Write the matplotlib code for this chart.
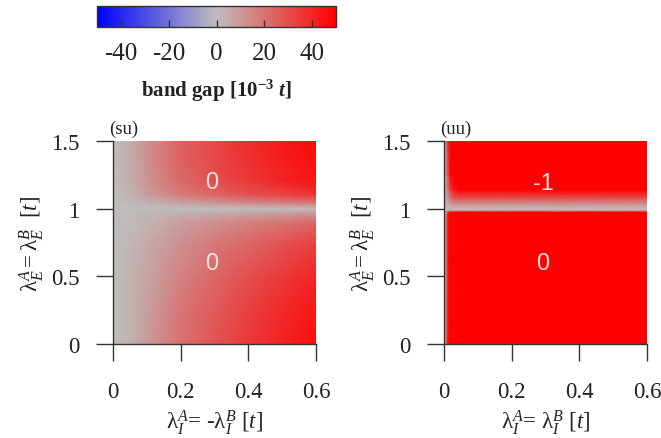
import numpy as np
import matplotlib
matplotlib.use("Agg")
import matplotlib.pyplot as plt
from matplotlib.colors import LinearSegmentedColormap, Normalize
import matplotlib.cm as cm

plt.rcParams["font.family"] = ["Liberation Serif", "DejaVu Serif"]
plt.rcParams["mathtext.fontset"] = "custom"
plt.rcParams["mathtext.rm"] = "Liberation Serif"
plt.rcParams["mathtext.it"] = "Liberation Serif:italic"
plt.rcParams["mathtext.bf"] = "Liberation Serif:bold"
plt.rcParams["mathtext.bfit"] = "Liberation Serif:italic:bold"

# ---- band gap samples (units of 1e-3 t) ----
# (su): lambda_I^A = -lambda_I^B
su_x = [0.0, 0.05, 0.1, 0.2, 0.3, 0.4, 0.5, 0.6]
su_y = [0.0, 0.25, 0.5, 0.75, 0.9, 0.96, 1.0, 1.04, 1.1, 1.2, 1.35, 1.5]
su_gap = [
    [0, 3, 9, 20, 28, 35, 41, 46],
    [0, 3, 8, 19, 26, 33, 39, 44],
    [0, 3, 7, 16, 23, 29, 35, 40],
    [0, 2, 5, 12, 18, 23, 28, 33],
    [0, 1, 3, 8, 12, 16, 19, 23],
    [0, 1, 2, 4, 6, 8, 10, 12],
    [0, 0, 0, 0, 0, 0, 0, 0],
    [0, 1, 3, 7, 10, 13, 15, 17],
    [0, 3, 8, 17, 23, 28, 32, 36],
    [0, 4, 11, 22, 29, 35, 40, 44],
    [0, 4, 12, 24, 31, 37, 42, 46],
    [0, 4, 12, 24, 31, 38, 43, 47],
]

# (uu): lambda_I^A = lambda_I^B
uu_x = [0.0, 0.006, 0.012, 0.02, 0.03, 0.05, 0.6]
uu_y = [0.0, 0.95, 0.975, 0.99, 1.0, 1.03, 1.08, 1.14, 1.25, 1.5]
uu_gap = [
    [0, 15, 45, 70, 80, 80, 80],
    [0, 15, 45, 70, 80, 80, 80],
    [0, 12, 40, 60, 70, 70, 70],
    [0, 2, 4, 6, 6, 6, 6],
    [0, 0, 0, 0, 0, 0, 0],
    [0, 2, 4, 8, 10, 10, 10],
    [0, 6, 12, 20, 26, 30, 30],
    [0, 10, 20, 35, 45, 50, 55],
    [0, 12, 30, 50, 65, 70, 70],
    [0, 15, 40, 65, 80, 80, 80],
]

# Chern / topological labels placed in each region
su_labels = [(0.293, 1.2, "0"), (0.293, 0.6, "0")]
uu_labels = [(0.293, 1.19, "-1"), (0.293, 0.6, "0")]

cbar_ticks = [-40, -20, 0, 20, 40]
x_ticks = [0, 0.2, 0.4, 0.6]
y_ticks = [0, 0.5, 1, 1.5]
x_ticklabels = ["0", "0.2", "0.4", "0.6"]
y_ticklabels = ["0", "0.5", "1", "1.5"]

cmap = LinearSegmentedColormap.from_list(
    "gap", [(0, (0, 0, 1)), (0.5, (0.745, 0.745, 0.745)), (1, (1, 0, 0))])
norm = Normalize(vmin=-50, vmax=50)

W, H = 661, 439
fig = plt.figure(figsize=(W / 100, H / 100), dpi=100)

def ax_rect(l, r, t, b):
    return [l / W, 1 - b / H, (r - l) / W, (b - t) / H]

axes_specs = [
    (ax_rect(113, 316, 142, 345), su_x, su_y, su_gap, su_labels, "(su)",
     r"$\mathrm{\lambda}_I^A$= -$\mathrm{\lambda}_I^B$ [$t$]"),
    (ax_rect(444, 647, 142, 345), uu_x, uu_y, uu_gap, uu_labels, "(uu)",
     r"$\mathrm{\lambda}_I^A$= $\mathrm{\lambda}_I^B$ [$t$]"),
]

edge = "#333333"
for rect, xs, ys, z, labels, tag, xlabel in axes_specs:
    ax = fig.add_axes(rect)
    X, Y = np.meshgrid(xs, ys)
    ax.pcolormesh(X, Y, np.array(z, dtype=float), cmap=cmap, norm=norm,
                  shading="gouraud", rasterized=True)
    ax.set_xlim(0, 0.6)
    ax.set_ylim(0, 1.5)
    for s in ("top", "right"):
        ax.spines[s].set_visible(False)
    for s in ("left", "bottom"):
        ax.spines[s].set_color(edge)
        ax.spines[s].set_linewidth(1.0)
    ax.set_xticks(x_ticks)
    ax.set_xticklabels(x_ticklabels)
    ax.set_yticks(y_ticks)
    ax.set_yticklabels(y_ticklabels)
    ax.tick_params(direction="out", length=12, width=1.0, color=edge,
                   labelsize=16.5, labelcolor="#222222")
    ax.tick_params(axis="x", pad=15)
    ax.tick_params(axis="y", pad=12)
    ax.set_xlabel(xlabel, fontsize=16.5, labelpad=3, color="#222222")
    ax.set_ylabel(r"$\mathrm{\lambda}_E^A = \mathrm{\lambda}_E^B$  [$t$]",
                  fontsize=16.5, labelpad=4, color="#222222")
    ax.text(-0.01, 1.5 + 0.03, tag, fontsize=13.5, color="#222222",
            ha="left", va="bottom")
    for lx, ly, s in labels:
        ax.text(lx, ly, s, fontsize=17, color="#fbe3e3", ha="center",
                va="center", family=["Liberation Sans", "DejaVu Sans"])

cax = fig.add_axes(ax_rect(97, 336, 7, 28))
cb = fig.colorbar(cm.ScalarMappable(norm=norm, cmap=cmap), cax=cax,
                  orientation="horizontal", ticks=cbar_ticks)
cb.outline.set_edgecolor(edge)
cb.outline.set_linewidth(1.0)
cax.tick_params(direction="in", length=5, width=1.0, color=edge,
                labelsize=18, pad=11, labelcolor="#222222")
cax.set_xticklabels([str(t) for t in cbar_ticks])
cb.set_label(r"band gap [10$^{\mathbf{-3}}$ $\mathbfit{t}$]", fontsize=15,
             labelpad=9, color="#222222", fontweight="bold")

fig.savefig("out.png", dpi=100)
